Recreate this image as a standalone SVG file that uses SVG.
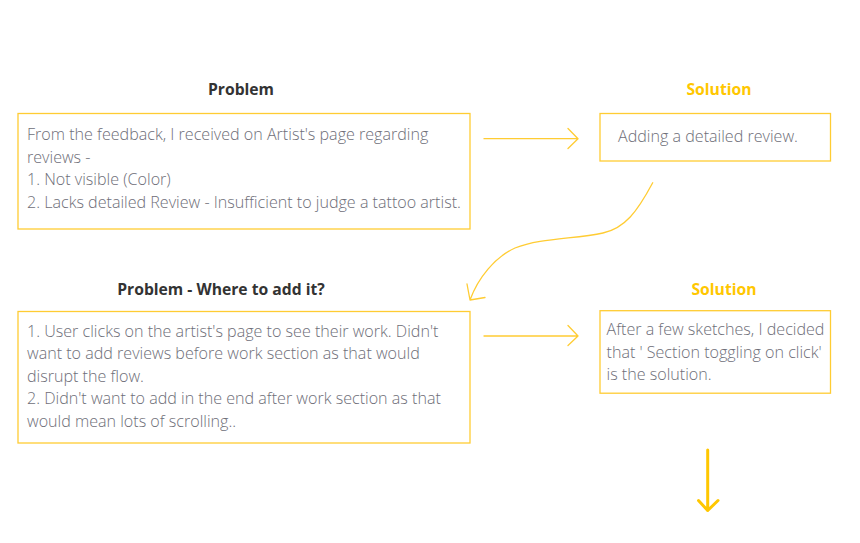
<svg xmlns="http://www.w3.org/2000/svg" width="860" height="543" viewBox="0 0 860 543">
<style>
.box{fill:#fff;stroke:#FFCC33;stroke-width:1.3}
.t{font-family:"Open Sans","Liberation Sans",sans-serif;font-size:16.1px;font-weight:300;fill:#6e6e78}
.h{font-family:"Open Sans","Liberation Sans",sans-serif;font-size:15.7px;font-weight:bold;text-anchor:middle}
.dark{fill:#333333}
.yel{fill:#FFC700}
.con{fill:none;stroke:#FFCC33;stroke-width:1.3;stroke-linecap:round;stroke-linejoin:round}
</style>
<rect width="860" height="543" fill="#fff"/>
<g id="problem1">
<text class="h dark" x="241" y="95">Problem</text>
<rect class="box" x="18" y="113.5" width="452" height="115.5"/>
<text class="t" x="27" y="140">From the feedback, I received on Artist's page regarding</text>
<text class="t" x="27" y="162.5">reviews -</text>
<text class="t" x="27" y="185">1. Not visible (Color)</text>
<text class="t" x="27" y="207.5">2. Lacks detailed Review - Insufficient to judge a tattoo artist.</text>
</g>
<g id="solution1">
<text class="h yel" x="719" y="95">Solution</text>
<rect class="box" x="600" y="113.5" width="230.5" height="47.5"/>
<text class="t" x="618" y="141.5">Adding a detailed review.</text>
</g>
<g id="problem2">
<text class="h dark" x="221" y="295">Problem - Where to add it?</text>
<rect class="box" x="18" y="311.5" width="452" height="131.5"/>
<text class="t" x="27" y="336.5">1. User clicks on the artist's page to see their work. Didn't</text>
<text class="t" x="27" y="359">want to add reviews before work section as that would</text>
<text class="t" x="27" y="381.5">disrupt the flow.</text>
<text class="t" x="27" y="404">2. Didn't want to add in the end after work section as that</text>
<text class="t" x="27" y="426.5">would mean lots of scrolling..</text>
</g>
<g id="solution2">
<text class="h yel" x="724" y="295">Solution</text>
<rect class="box" x="600" y="310.7" width="230.5" height="82.5"/>
<text class="t" x="606.5" y="335">After a few sketches, I decided</text>
<text class="t" x="606.5" y="357.5">that ' Section toggling on click'</text>
<text class="t" x="606.5" y="380">is the solution.</text>
</g>
<g id="connectors">
<path class="con" d="M484,138.7 H578 M568,128.5 L578,138.7 L568,148.5"/>
<path class="con" d="M652.7,182.7 C637,212 625,228 603,233 C575,239 540,238 515,248 C495,257 478,278 470,300 M467,284 L470,300 L485,297.5"/>
<path class="con" d="M484,336 H578 M568,325.5 L578,336 L568,345.5"/>
<path class="con" style="stroke:#FFC700;stroke-width:3" d="M707.7,450 V510.5 M698.5,500.5 L707.7,510.5 L718,500.5"/>
</g>
</svg>
